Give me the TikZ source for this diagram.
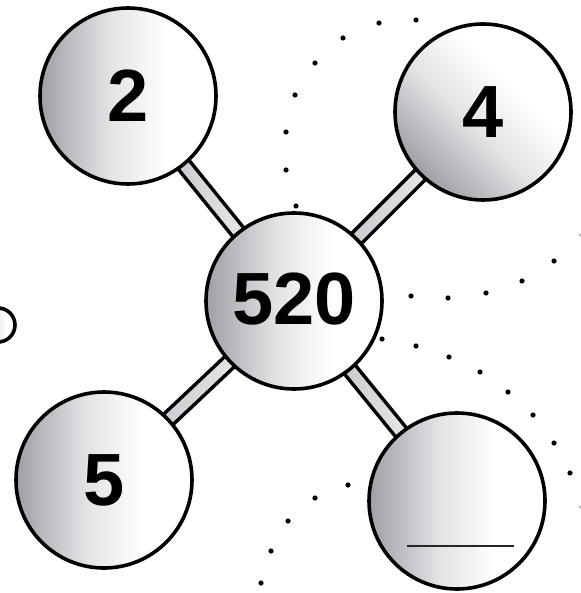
\documentclass[tikz,border=0pt]{standalone}
\usepackage{fontspec}
\setmainfont{Liberation Sans}
\usetikzlibrary{calc}
\definecolor{edgegray}{RGB}{158,160,165}
\definecolor{midgray}{RGB}{226,227,229}
\pgfdeclarehorizontalshading{ballshade}{100bp}{color(0bp)=(edgegray); color(25bp)=(edgegray); color(45bp)=(midgray); color(61bp)=(white); color(100bp)=(white)}
\tikzset{
  ball/.style={circle, draw=black, line width=3.6pt, minimum size=176pt, inner sep=0pt,
    shading=ballshade, font=\bfseries\fontsize{74}{74}\selectfont},
  spoke/.style={draw=black, line width=3.4pt, left color=edgegray!80, right color=white},
  dot/.style={fill=black}
}

\begin{document}
\begin{tikzpicture}[x=1pt, y=-1pt]
      \useasboundingbox (0,0) rectangle (580,593);
      \clip (0,0) rectangle (580,593);
      \foreach \p in {(416,20), (379,23), (343,38), (315,63), (295,95), (286,132), (286,170), (296,206),
        (582,235), (554,261), (522,281), (486,293), (448,298), (411,296),
        (382,339), (416,346), (449,357), (480,372), (508,392), (533,415), (554,443), (570,473), (582,507),
        (348,485), (315,498), (288,521), (271,551), (261,583)}
        \fill[dot] \p circle (2.6);
      \coordinate (hubpos) at (294,301);
      \coordinate (twopos) at (128,96);
      \coordinate (fourpos) at (483,112);
      \coordinate (fivepos) at (104,480);
      \coordinate (blankpos) at (457,501);
      \foreach \n in {twopos,fourpos,fivepos,blankpos}
        \draw[spoke] ($(hubpos)!7pt!90:(\n)$) -- ($(\n)!7pt!-90:(hubpos)$)
          -- ($(\n)!7pt!90:(hubpos)$) -- ($(hubpos)!7pt!-90:(\n)$) -- cycle;
      \node[ball, minimum size=34pt] (side) at (-2,325) {};
      \node[ball] (two) at (twopos) {2};
      \node[ball, shading angle=45] (four) at (fourpos) {4};
      \node[ball] (five) at (fivepos) {5};
      \node[ball] (blank) at (blankpos) {};
      \node[ball] (hub) at (hubpos) {\raisebox{4pt}{520}};
      \draw[line width=2.6pt, black!85] ($(blank.center)+(-50,45)$) coordinate (lineA) -- ($(blank.center)+(57,45)$) coordinate (lineB);
    \end{tikzpicture}
\end{document}
